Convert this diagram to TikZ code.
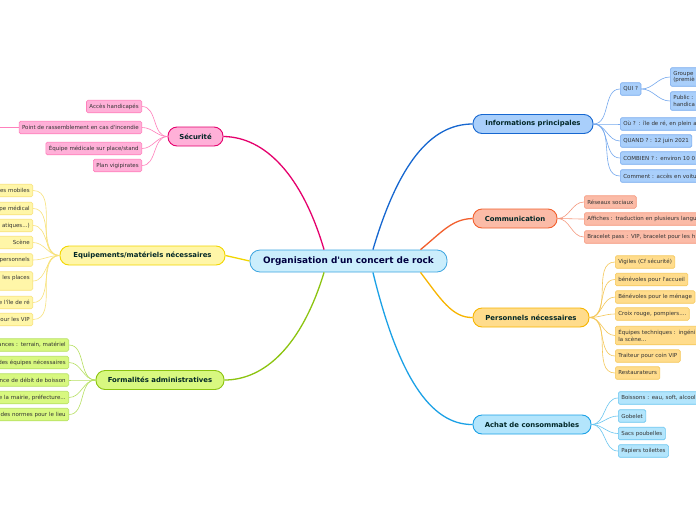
\documentclass[tikz,border=0pt]{standalone}
\usepackage{fontspec}
\setmainfont{DejaVu Sans}
\newfontfamily\dv{DejaVu Sans}
\begin{document}
\begin{tikzpicture}[x=1pt,y=-1pt,
  kid/.style={draw, rounded corners=1.5pt, inner xsep=3pt, inner ysep=0pt, minimum height=12.5pt, font=\dv\fontsize{5.5}{6.6}\selectfont, text=black!80, line width=0.6pt},
  kidtwo/.style={kid, minimum height=18.5pt},
  lcut/.style={anchor=east, text width=150pt, align=right},
  rcut/.style={anchor=west, text width=150pt, align=left},
  br/.style={draw, rounded corners=9pt, minimum height=19pt, inner sep=0pt, line width=0.9pt, font=\dv\fontsize{6.9}{8}\selectfont\bfseries, text=teal!30!black},
  trunk/.style={line width=1.3pt},
  twig/.style={line width=0.6pt},
]
\definecolor{cfill}{HTML}{CBEEFC}\definecolor{cdraw}{HTML}{3DA5E0}
\definecolor{pkf}{HTML}{FFB0D8}\definecolor{pkd}{HTML}{E5006D}\definecolor{pkk}{HTML}{FF80BC}
\definecolor{ylf}{HTML}{FFF6A8}\definecolor{yld}{HTML}{F2D600}\definecolor{ylk}{HTML}{F8E27A}
\definecolor{grf}{HTML}{D8F880}\definecolor{grd}{HTML}{8CC410}\definecolor{grk}{HTML}{B6E060}
\definecolor{blf}{HTML}{A9CFFB}\definecolor{bld}{HTML}{1667D0}\definecolor{blk}{HTML}{76A9EE}
\definecolor{orf}{HTML}{FBBBA7}\definecolor{ord}{HTML}{F25F2D}\definecolor{ork}{HTML}{F5977C}
\definecolor{gof}{HTML}{FFDC8C}\definecolor{god}{HTML}{F7B500}\definecolor{gok}{HTML}{F5C85A}
\definecolor{cyf}{HTML}{B3E5FC}\definecolor{cyd}{HTML}{1BA1E6}\definecolor{cyk}{HTML}{6AC6F0}
\useasboundingbox (0,0) rectangle (696,520);
\clip (0,0) rectangle (696,520);
\fill[white] (0,0) rectangle (696,520);

% central
\node[draw=cdraw, fill=cfill, rounded corners=10pt, minimum width=197pt, minimum height=22pt, inner sep=0pt, line width=0.8pt, font=\dv\fontsize{8.9}{10}\selectfont\bfseries, text=blue!25!black] (c) at (348.5,261) {Organisation d'un concert de rock};

% branches
\node[br, fill=pkf, draw=pkd, minimum width=55pt] (sec) at (195.5,136.5) {Sécurité};
\node[br, fill=ylf, draw=yld, minimum width=165pt] (eq) at (142.5,255.5) {Equipements/matériels nécessaires};
\node[br, fill=grf, draw=grd, minimum width=128pt] (fo) at (160,380) {Formalités administratives};
\node[br, fill=blf, draw=bld, minimum width=120pt] (inf) at (533,124) {Informations principales};
\node[br, fill=orf, draw=ord, minimum width=84pt] (com) at (515,218.5) {Communication};
\node[br, fill=gof, draw=god, minimum width=116pt] (pe) at (531,317.5) {Personnels nécessaires};
\node[br, fill=cyf, draw=cyd, minimum width=118pt] (ach) at (532,424.5) {Achat de consommables};

% trunks
\draw[trunk, pkd] (c.155) .. controls (302,175) and (265,137) .. (sec.east);
\draw[trunk, yld] (c.west) -- (eq.east);
\draw[trunk, grd] (c.205) .. controls (302,345) and (265,380) .. (fo.east);
\draw[trunk, bld] (c.25) .. controls (398,165) and (430,124) .. (inf.west);
\draw[trunk, ord] (c.9) .. controls (442,232) and (452,219) .. (com.west);
\draw[trunk, god] (c.351) .. controls (440,298) and (452,318) .. (pe.west);
\draw[trunk, cyd] (c.335) .. controls (398,375) and (430,425) .. (ach.west);

% Sécurité children
\begin{scope}[every node/.style={kid, fill=pkf, draw=pkk, anchor=east}]
\node (s1) at (142,106.5) {Accès handicapés};
\node (s2) at (142,127.5) {Point de rassemblement en cas d'incendie};
\node (s3) at (142,148.5) {Équipe médicale sur place/stand};
\node (s4) at (142,165.5) {Plan vigipirates};
\end{scope}
\coordinate (s2x) at (-20,127.5);
\foreach \k in {s1,s2,s3,s4} \draw[twig, pkk] (sec.west) to[out=180,in=0] (\k.east);
\draw[twig, pkk] (s2.west) -- (s2x);

% Equipements children
\begin{scope}[every node/.style={kid, fill=ylf, draw=ylk, lcut}]
\node (e1) at (33,190.5) {es mobiles};
\node (e2) at (33,208.5) {pe médical};
\node (e3) at (33,225.5) {atiques...)};
\node (e4) at (33,242.5) {Scène};
\node (e5) at (33,260) {personnels};
\node[kidtwo] (e6) at (33,281) {les places\\ ~};
\node (e7) at (33,302.5) {e l'île de ré};
\node (e8) at (33,319.5) {our les VIP};
\end{scope}
\foreach \k in {e1,e2,e3,e4,e5,e6,e7,e8} \draw[twig, ylk] (eq.west) to[out=180,in=0] (\k.east);

% Formalités children
\begin{scope}[every node/.style={kid, fill=grf, draw=grk, lcut}]
\node (f1) at (69,345) {ances : terrain, matériel};
\node (f2) at (69,362.5) {des équipes nécessaires};
\node (f3) at (69,380) {nce de débit de boisson};
\node (f4) at (69,397.5) {e la mairie, préfecture...};
\node (f5) at (69,414.5) {des normes pour le lieu};
\end{scope}
\foreach \k in {f1,f2,f3,f4,f5} \draw[twig, grk] (fo.west) to[out=180,in=0] (\k.east);

% Informations children
\begin{scope}[every node/.style={kid, fill=blf, draw=blk, anchor=west}]
\node (i1) at (620,89) {QUI ?};
\node[rcut] (i2) at (620,124) {Où ? : île de ré, en plein a};
\node (i3) at (620,141) {QUAND ? : 12 juin 2021};
\node[rcut] (i4) at (620,158) {COMBIEN ? : environ 10 0};
\node[rcut] (i5) at (620,176) {Comment : accès en voitu};
\node[kidtwo, rcut] (q1) at (670,77) {Groupe\\(premiè};
\node[kidtwo, rcut] (q2) at (670,101) {Public :\\handica};
\end{scope}
\foreach \k in {i1,i2,i3,i4,i5} \draw[twig, blk] (inf.east) to[out=0,in=180] (\k.west);
\foreach \k in {q1,q2} \draw[twig, blk] (i1.east) to[out=0,in=180] (\k.west);

% Communication children
\begin{scope}[every node/.style={kid, fill=orf, draw=ork, anchor=west}]
\node (o1) at (584,202) {Réseaux sociaux};
\node[rcut] (o2) at (584,219) {Affiches : traduction en plusieurs langu};
\node[rcut] (o3) at (584,237) {Bracelet pass : VIP, bracelet pour les h};
\end{scope}
\foreach \k in {o1,o2,o3} \draw[twig, ork] (com.east) to[out=0,in=180] (\k.west);

% Personnels children
\begin{scope}[every node/.style={kid, fill=gof, draw=gok, anchor=west}]
\node (p1) at (615,262) {Vigiles (Cf sécurité)};
\node (p2) at (615,279.5) {bénévoles pour l'accueil};
\node (p3) at (615,297) {Bénévoles pour le ménage};
\node (p4) at (615,314) {Croix rouge, pompiers....};
\node[kidtwo, rcut] (p5) at (615,335.5) {Équipes techniques : ingéni\\la scène...};
\node (p6) at (615,356) {Traiteur pour coin VIP};
\node (p7) at (615,373) {Restaurateurs};
\end{scope}
\foreach \k in {p1,p2,p3,p4,p5,p6,p7} \draw[twig, gok] (pe.east) to[out=0,in=180] (\k.west);

% Achat children
\begin{scope}[every node/.style={kid, fill=cyf, draw=cyk, anchor=west}]
\node[rcut] (a1) at (618,398) {Boissons : eau, soft, alcool};
\node (a2) at (618,416) {Gobelet};
\node (a3) at (618,433.5) {Sacs poubelles};
\node (a4) at (618,451) {Papiers toilettes};
\end{scope}
\foreach \k in {a1,a2,a3,a4} \draw[twig, cyk] (ach.east) to[out=0,in=180] (\k.west);
\end{tikzpicture}
\end{document}
